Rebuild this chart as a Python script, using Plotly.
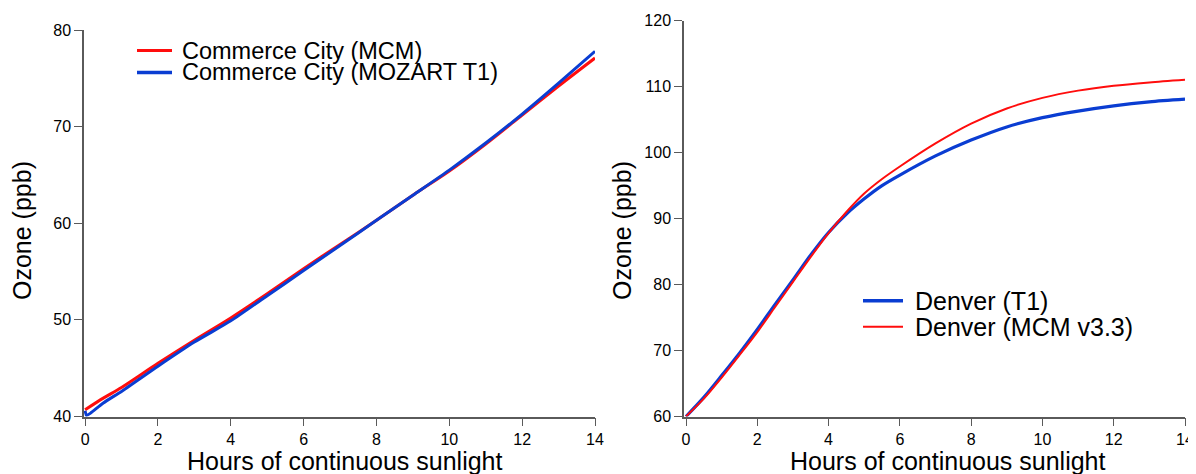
import plotly.graph_objects as go

# page body has an 8px margin: the figure is sized to fill the 1196x474 window
OFF = 8
W, H = 1196 - OFF, 474 - OFF

# ---------------- data ----------------
# Left panel: Commerce City
cc_hours_mcm = [0, 0.5, 1, 2, 3, 4, 5, 6, 7, 8, 9, 10, 11, 12, 13, 14]
cc_ozone_mcm = [40.7, 41.9, 43.0, 45.5, 47.9, 50.2, 52.7, 55.3, 57.8, 60.3, 62.9, 65.4, 68.2, 71.2, 74.2, 77.1]
cc_hours_t1 = [0, 0.04, 0.15, 0.5, 1, 2, 3, 4, 5, 6, 7, 8, 9, 10, 11, 12, 13, 14]
cc_ozone_t1 = [40.6, 40.1, 40.35, 41.4, 42.6, 45.2, 47.7, 49.9, 52.5, 55.1, 57.7, 60.3, 62.9, 65.5, 68.3, 71.3, 74.5, 77.8]

# Right panel: Denver
den_hours = [0, 0.5, 1, 1.5, 2, 2.5, 3, 3.5, 4, 4.5, 5, 5.5, 6, 7, 8, 9, 10, 11, 12, 13, 14]
den_ozone_t1 = [60, 62.9, 66.2, 69.6, 73.2, 77.0, 80.7, 84.5, 87.9, 90.7, 93.0, 95.0, 96.6, 99.5, 101.9, 103.9, 105.3, 106.3, 107.1, 107.7, 108.1]
den_ozone_mcm = [60, 62.7, 65.9, 69.3, 72.8, 76.6, 80.4, 84.2, 87.8, 91.0, 93.8, 96.0, 97.9, 101.4, 104.4, 106.7, 108.3, 109.4, 110.15, 110.65, 111.05]

left_labels = ["Commerce City (MCM)", "Commerce City (MOZART T1)"]
right_labels = ["Denver (T1)", "Denver (MCM v3.3)"]
x_title = "Hours of continuous sunlight"
y_title = "Ozone (ppb)"

RED = "#ff0d0d"
BLUE = "#0a3dd2"
AXC = "#5a5a5a"
FONT = "Liberation Sans, Arial, Helvetica, sans-serif"


def px_x(p):
    return (p - OFF) / W


def px_y(p):
    return 1 - (p - OFF) / H


fig = go.Figure()

fig.add_trace(go.Scatter(x=cc_hours_mcm, y=cc_ozone_mcm, mode="lines", name=left_labels[0],
                         line=dict(color=RED, width=3, shape="spline", smoothing=0.8),
                         xaxis="x", yaxis="y", showlegend=False))
fig.add_trace(go.Scatter(x=cc_hours_t1, y=cc_ozone_t1, mode="lines", name=left_labels[1],
                         line=dict(color=BLUE, width=3, shape="spline", smoothing=0.6),
                         xaxis="x", yaxis="y", showlegend=False))
fig.add_trace(go.Scatter(x=den_hours, y=den_ozone_t1, mode="lines", name=right_labels[0],
                         line=dict(color=BLUE, width=3.2, shape="spline", smoothing=0.8),
                         xaxis="x2", yaxis="y2", showlegend=False))
fig.add_trace(go.Scatter(x=den_hours, y=den_ozone_mcm, mode="lines", name=right_labels[1],
                         line=dict(color=RED, width=2, shape="spline", smoothing=0.8),
                         xaxis="x2", yaxis="y2", showlegend=False))

axis_common = dict(showline=True, linecolor=AXC, linewidth=1.5, ticks="outside",
                   ticklen=8, tickwidth=1.2, tickcolor=AXC, showgrid=False, zeroline=False,
                   tickfont=dict(family=FONT, size=16, color="black"), mirror=False,
                   automargin=False, ticklabeloverflow="allow")

fig.update_layout(
    width=W, height=H,
    margin=dict(l=0, r=0, t=0, b=0, autoexpand=False),
    paper_bgcolor="white", plot_bgcolor="white",
    hovermode=False,
    xaxis=dict(domain=[px_x(84), px_x(595)], range=[-0.03, 14], tickvals=list(range(0, 15, 2)),
               anchor="y", **axis_common),
    yaxis=dict(domain=[px_y(416.5), px_y(30)], range=[40, 80], tickvals=[40, 50, 60, 70, 80],
               anchor="x", **axis_common),
    xaxis2=dict(domain=[px_x(684), px_x(1185)], range=[-0.056, 14], tickvals=list(range(0, 15, 2)),
                anchor="y2", **axis_common),
    yaxis2=dict(domain=[px_y(416.5), px_y(20.7)], range=[60, 120],
                tickvals=[60, 70, 80, 90, 100, 110, 120], anchor="x2", **axis_common),
)

annotations = []
# axis titles
for cx in (22, 622):
    annotations.append(dict(text=y_title, x=px_x(cx), y=px_y(231), xref="paper", yref="paper",
                            xanchor="center", yanchor="middle", textangle=-90, showarrow=False,
                            font=dict(family=FONT, size=25, color="black")))
for cx in (345, 948):
    annotations.append(dict(text=x_title, x=px_x(cx), y=px_y(461), xref="paper", yref="paper",
                            xanchor="center", yanchor="middle", showarrow=False,
                            font=dict(family=FONT, size=25, color="black")))

# legends (keys + labels)
shapes = []
left_leg = [(left_labels[0], RED, 3, 50.5), (left_labels[1], BLUE, 3.5, 72.5)]
for lab, col, w, yy in left_leg:
    shapes.append(dict(type="line", xref="paper", yref="paper", x0=px_x(137), x1=px_x(172),
                       y0=px_y(yy), y1=px_y(yy), line=dict(color=col, width=w)))
    annotations.append(dict(text=lab, x=px_x(180), y=px_y(yy), xref="paper", yref="paper",
                            xanchor="left", yanchor="middle", showarrow=False,
                            font=dict(family=FONT, size=23.5, color="black")))
right_leg = [(right_labels[0], BLUE, 3.5, 300.7), (right_labels[1], RED, 2, 326.7)]
for lab, col, w, yy in right_leg:
    shapes.append(dict(type="line", xref="paper", yref="paper", x0=px_x(863), x1=px_x(903),
                       y0=px_y(yy), y1=px_y(yy), line=dict(color=col, width=w)))
    annotations.append(dict(text=lab, x=px_x(913), y=px_y(yy), xref="paper", yref="paper",
                            xanchor="left", yanchor="middle", showarrow=False,
                            font=dict(family=FONT, size=25, color="black")))

fig.update_layout(annotations=annotations, shapes=shapes)

fig.write_html("out.html")
